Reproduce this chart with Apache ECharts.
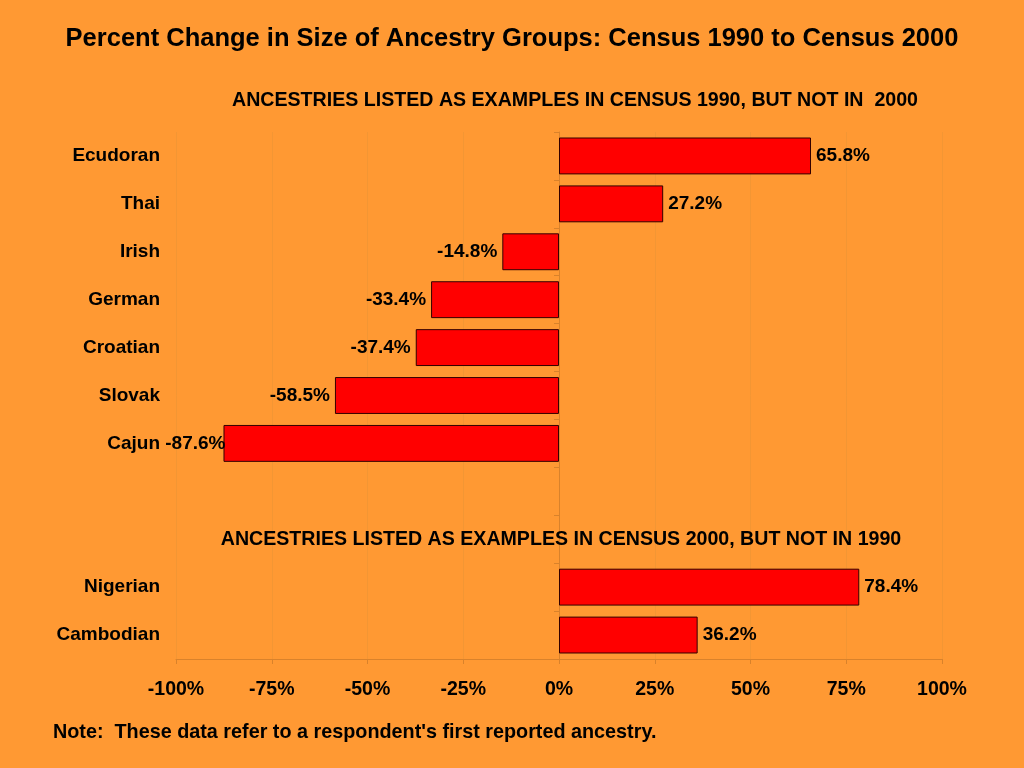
<!DOCTYPE html>
<html>
<head>
<meta charset="utf-8">
<script src="https://cdn.jsdelivr.net/npm/echarts@6/dist/echarts.min.js"></script>
<style>html,body{margin:0;padding:0;background:#FF9933;}#c{width:1024px;height:768px;}</style>
</head>
<body>
<div id="c"></div>
<script>
const categories = ['Ecudoran','Thai','Irish','German','Croatian','Slovak','Cajun','','','Nigerian','Cambodian'];
const values = [65.8, 27.2, -14.8, -33.4, -37.4, -58.5, -87.6, null, null, 78.4, 36.2];
const xTicks = [-100,-75,-50,-25,0,25,50,75,100];
const titleText = 'Percent Change in Size of Ancestry Groups: Census 1990 to Census 2000';
const heading1 = 'ANCESTRIES LISTED AS EXAMPLES IN CENSUS 1990, BUT NOT IN  2000';
const heading2 = 'ANCESTRIES LISTED AS EXAMPLES IN CENSUS 2000, BUT NOT IN 1990';
const noteText = "Note:  These data refer to a respondent's first reported ancestry.";

const font = 'Liberation Sans, Arial, sans-serif';
const chart = echarts.init(document.getElementById('c'));
const data = values.map((v, i) => {
  if (v === null) return '-';
  const item = { value: v, label: { position: v >= 0 ? 'right' : 'left' } };
  if (i === 6) item.label.distance = -2;
  return item;
});
chart.setOption({
  backgroundColor: '#FF9933',
  animation: false,
  title: [
    { text: titleText, left: 'center', top: 21, textStyle: { fontFamily: font, fontWeight: 'bold', fontSize: 25.5, color: '#000' } },
    { text: heading1, left: 570, textAlign: 'center', top: 86, textStyle: { fontFamily: font, fontWeight: 'bold', fontSize: 19.6, color: '#000' } },
    { text: heading2, left: 556, textAlign: 'center', top: 525, textStyle: { fontFamily: font, fontWeight: 'bold', fontSize: 19.6, color: '#000' } },
    { text: noteText, left: 48, top: 718, textStyle: { fontFamily: font, fontWeight: 'bold', fontSize: 19.8, color: '#000' } }
  ],
  grid: { left: 176, right: 82, top: 132, bottom: 109, containLabel: false, outerBoundsMode: 'none' },
  xAxis: {
    type: 'value', min: -100, max: 100, interval: 25,
    axisLine: { show: true, lineStyle: { color: '#D9822B', width: 1 } },
    axisTick: { show: true, length: 5, lineStyle: { color: '#D9822B' } },
    splitLine: { show: true, lineStyle: { color: '#F39634', width: 1 } },
    axisLabel: {
      margin: 21, fontFamily: font, fontWeight: 'bold', fontSize: 19.5, color: '#000',
      formatter: v => xTicks.includes(v) ? v + '%' : ''
    }
  },
  yAxis: {
    type: 'category', data: categories, inverse: true,
    axisLine: { show: true, onZero: true, lineStyle: { color: '#D9822B', width: 1 } },
    axisTick: { show: true, length: 5, lineStyle: { color: '#D9822B' } },
    axisLabel: { margin: 16, fontFamily: font, fontWeight: 'bold', fontSize: 19, color: '#000' }
  },
  series: [{
    type: 'bar', data: data, barCategoryGap: '23%',
    itemStyle: { color: '#FF0000', borderColor: '#330000', borderWidth: 1 },
    label: {
      show: true, distance: 5, fontFamily: font, fontWeight: 'bold', fontSize: 19, color: '#000',
      formatter: p => p.value.toFixed(1) + '%'
    }
  }]
});
</script>
</body>
</html>
